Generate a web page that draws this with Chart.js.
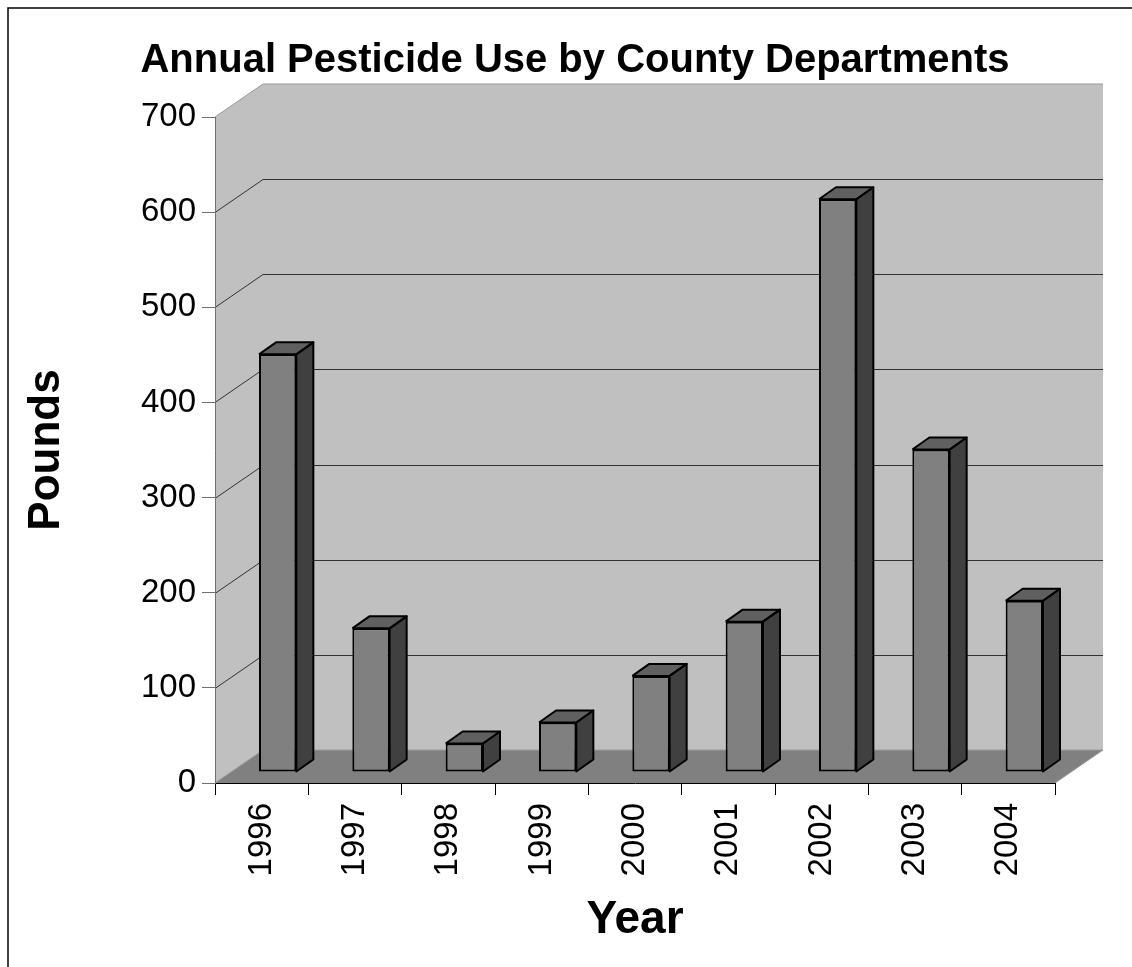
<!DOCTYPE html>
<html>
<head>
<meta charset="utf-8">
<title>Annual Pesticide Use by County Departments</title>
<script src="https://cdn.jsdelivr.net/npm/chart.js@4.4.0/dist/chart.umd.min.js"></script>
<style>
    html, body { margin: 0; padding: 0; background: #fff; }
    #wrap { width: 1132px; height: 967px; }
</style>
</head>
<body>
<div id="wrap"><canvas id="pesticide-chart" width="1132" height="967"></canvas></div>
<script>
// data
const years = ['1996', '1997', '1998', '1999', '2000', '2001', '2002', '2003', '2004'];
const pounds = [439, 151, 30, 52, 101, 158, 602, 339, 180];
const yTicks = [0, 100, 200, 300, 400, 500, 600, 700];

// 3d look
const WALL_DX = 48, WALL_DY = -33;   // back wall offset
const BAR_DX = 16, BAR_DY = -11;     // bar front plane offset
const DEPTH_DX = 17, DEPTH_DY = -12; // bar depth

function fillPoly(ctx, pts, color) {
    ctx.beginPath();
    ctx.moveTo(pts[0][0], pts[0][1]);
    for (let i = 1; i < pts.length; i++) ctx.lineTo(pts[i][0], pts[i][1]);
    ctx.closePath();
    ctx.fillStyle = color;
    ctx.fill();
}

function strokeLine(ctx, pts, color, width) {
    ctx.beginPath();
    ctx.moveTo(pts[0][0], pts[0][1]);
    for (let i = 1; i < pts.length; i++) ctx.lineTo(pts[i][0], pts[i][1]);
    ctx.strokeStyle = color;
    ctx.lineWidth = width;
    ctx.stroke();
}

const threeDPlugin = {
    id: 'threeD',
    beforeDraw(chart) {
        const ctx = chart.ctx;
        const a = chart.chartArea;
        const y = chart.scales.y;
        const y0 = y.getPixelForValue(y.min);
        const yTop = y.getPixelForValue(y.max);
        ctx.save();
        ctx.fillStyle = '#fff';
        ctx.fillRect(0, 0, chart.width, chart.height);
        // frame
        strokeLine(ctx, [[8, chart.height], [8, 8], [chart.width, 8]], '#000', 1.5);
        // walls
        fillPoly(ctx, [[a.left, yTop], [a.left + WALL_DX, yTop + WALL_DY], [a.left + WALL_DX, y0 + WALL_DY], [a.left, y0]], '#c0c0c0');
        fillPoly(ctx, [[a.left + WALL_DX, yTop + WALL_DY], [a.right + WALL_DX, yTop + WALL_DY], [a.right + WALL_DX, y0 + WALL_DY], [a.left + WALL_DX, y0 + WALL_DY]], '#c0c0c0');
        // floor
        fillPoly(ctx, [[a.left, y0], [a.left + WALL_DX, y0 + WALL_DY], [a.right + WALL_DX, y0 + WALL_DY], [a.right, y0]], '#808080');
        // gridlines on the walls
        yTicks.forEach((v) => {
            if (v === y.min || v === y.max) return;
            const py = Math.round(y.getPixelForValue(v)) + 0.5;
            strokeLine(ctx, [[a.left, py], [a.left + WALL_DX, py + WALL_DY], [a.right + WALL_DX, py + WALL_DY]], '#333', 1);
        });
        // wall edges
        strokeLine(ctx, [[a.left, yTop], [a.left + WALL_DX, yTop + WALL_DY], [a.right + WALL_DX, yTop + WALL_DY]], '#9a9a9a', 1);
        strokeLine(ctx, [[a.left, y0], [a.left + WALL_DX, y0 + WALL_DY], [a.right + WALL_DX, y0 + WALL_DY], [a.right, y0]], '#9a9a9a', 1);
        ctx.restore();
    },
    beforeDatasetsDraw(chart) {
        chart.ctx.save();
        chart.ctx.translate(BAR_DX, BAR_DY);
    },
    afterDatasetsDraw(chart) {
        const ctx = chart.ctx;
        const meta = chart.getDatasetMeta(0);
        meta.data.forEach((bar) => {
            const p = bar.getProps(['x', 'y', 'base', 'width'], true);
            const l = p.x - p.width / 2, r = p.x + p.width / 2;
            const t = p.y, b = p.base;
            const side = [[r, t], [r + DEPTH_DX, t + DEPTH_DY], [r + DEPTH_DX, b + DEPTH_DY], [r, b]];
            const top = [[l, t], [l + DEPTH_DX, t + DEPTH_DY], [r + DEPTH_DX, t + DEPTH_DY], [r, t]];
            fillPoly(ctx, side, '#404040');
            fillPoly(ctx, top, '#606060');
            ctx.lineJoin = 'round';
            strokeLine(ctx, side.concat([side[0]]), '#000', 2);
            strokeLine(ctx, top.concat([top[0]]), '#000', 2);
        });
        ctx.restore();
    },
};

Chart.defaults.font.family = "'Liberation Sans', Arial, sans-serif";
Chart.defaults.color = '#000';

new Chart(document.getElementById('pesticide-chart'), {
    type: 'bar',
    data: {
        labels: years,
        datasets: [
            {
                label: 'Pounds',
                data: pounds,
                backgroundColor: '#808080',
                borderColor: '#000',
                borderWidth: 2,
                borderSkipped: false,
                barPercentage: 0.4,
                categoryPercentage: 1,
                clip: false,
            },
        ],
    },
    options: {
        responsive: false,
        animation: false,
        devicePixelRatio: 1,
        layout: { padding: { left: 18, right: 0, top: 0, bottom: 0 } },
        plugins: {
            legend: { display: false },
            tooltip: { enabled: false },
            title: {
                display: true,
                text: 'Annual Pesticide Use by County Departments',
                font: { size: 40, weight: 'bold' },
                color: '#000',
                padding: { top: 37, bottom: 32 },
            },
        },
        scales: {
            x: {
                afterFit(scale) { scale.height = 184; },
                grid: { drawOnChartArea: false, drawTicks: true, tickLength: 12, color: '#000' },
                border: { display: true, color: '#000', width: 1 },
                ticks: { font: { size: 33 }, minRotation: 90, maxRotation: 90, padding: 8, autoSkip: false },
                title: { display: true, text: 'Year', font: { size: 46, weight: 'bold' }, padding: { top: 0, bottom: 19 } },
            },
            y: {
                min: 0,
                max: 700,
                afterFit(scale) { scale.width = 197; },
                afterBuildTicks(scale) { scale.ticks = yTicks.map((v) => ({ value: v })); },
                grid: { drawOnChartArea: false, drawTicks: true, tickLength: 13, color: '#707070' },
                border: { display: true, color: '#707070', width: 1 },
                ticks: { font: { size: 33 }, padding: 6 },
                title: { display: true, text: 'Pounds', font: { size: 44, weight: 'bold' }, padding: { top: 2, bottom: 0 } },
            },
            yRight: {
                position: 'right',
                afterFit(scale) { scale.width = 77; },
                ticks: { display: false },
                grid: { display: false },
                border: { display: false },
            },
        },
    },
    plugins: [threeDPlugin],
});
</script>
</body>
</html>
